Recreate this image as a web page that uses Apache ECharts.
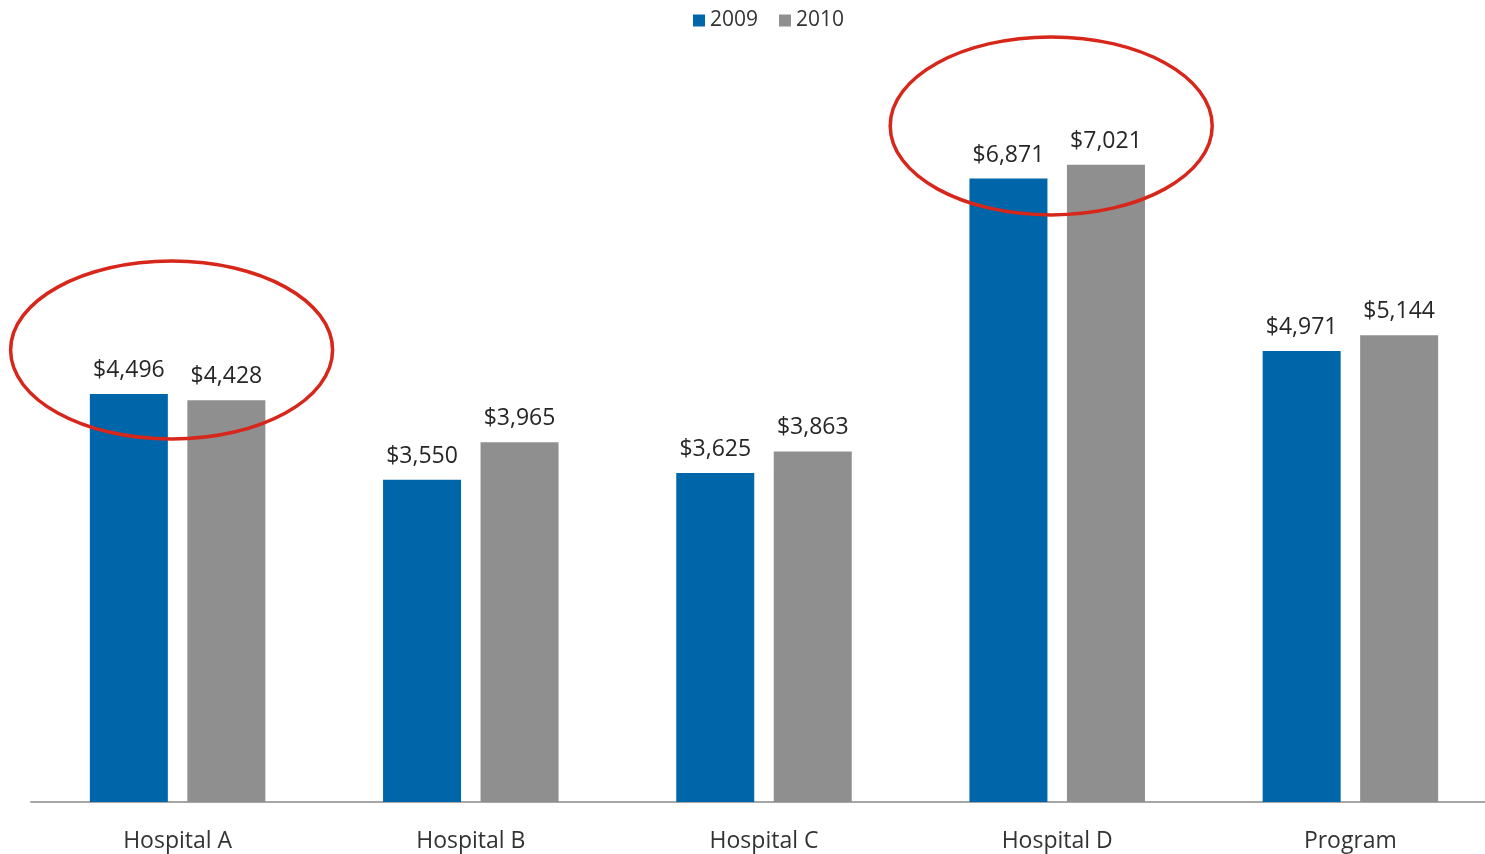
<!DOCTYPE html>
<html>
<head>
<meta charset="utf-8">
<script src="https://cdn.jsdelivr.net/npm/echarts@6/dist/echarts.min.js"></script>
<style>
  html, body { margin: 0; padding: 0; background: #fff; }
  #chart { width: 1485px; height: 854px; }
</style>
</head>
<body>
<div id="chart"></div>
<script>
// Cost per case by site, two years side by side
const categories = ['Hospital A', 'Hospital B', 'Hospital C', 'Hospital D', 'Program'];
const values2009 = [4496, 3550, 3625, 6871, 4971];
const values2010 = [4428, 3965, 3863, 7021, 5144];
const seriesNames = ['2009', '2010'];

// Sites highlighted with a red ring: [category, value at ring centre]
const highlights = [
  ['Hospital A', 4980],
  ['Hospital D', 7450]
];

const FONT = '"Open Sans", "Noto Sans", sans-serif';
const money = v => '$' + v.toLocaleString('en-US');

const chart = echarts.init(document.getElementById('chart'));

const valueLabel = {
  show: true, position: 'top', distance: 12,
  fontFamily: FONT, fontSize: 23, color: '#262626',
  formatter: p => money(p.value)
};

const option = {
  animation: false,
  backgroundColor: '#ffffff',
  legend: {
    top: 5,
    left: 688,
    itemWidth: 12,
    itemHeight: 12,
    itemGap: 21,
    icon: 'rect',
    textStyle: { fontFamily: FONT, fontSize: 21, color: '#333333' },
    data: seriesNames
  },
  // plot runs slightly past the right edge of the canvas
  grid: { left: 31, width: 1466, top: 76, bottom: 52, outerBoundsMode: 'none' },
  xAxis: {
    type: 'category',
    data: categories,
    axisTick: { show: false },
    axisLine: { lineStyle: { color: '#a6a6a6', width: 2 } },
    axisLabel: { fontFamily: FONT, fontSize: 23, color: '#333333', margin: 28 }
  },
  yAxis: {
    type: 'value',
    min: 0,
    max: 8000,
    show: false,
    splitLine: { show: false }
  },
  series: [
    {
      name: seriesNames[0],
      type: 'bar',
      data: values2009,
      barWidth: 78,
      barGap: '25%',
      itemStyle: { color: '#0066aa' },
      label: valueLabel
    },
    {
      name: seriesNames[1],
      type: 'bar',
      data: values2010,
      barWidth: 78,
      barGap: '25%',
      itemStyle: { color: '#8f8f8f' },
      label: valueLabel
    }
  ]
};

chart.setOption(option);

// Red rings around the highlighted sites, placed through the chart's own scales
const rings = highlights.map(([cat, val]) => {
  const [cx, cy] = chart.convertToPixel({ gridIndex: 0 }, [cat, val]);
  return {
    type: 'ellipse',
    shape: { cx: cx - 6, cy: cy, rx: 161, ry: 89 },
    style: { fill: 'none', stroke: '#d7261a', lineWidth: 3.5 },
    z: 100
  };
});
chart.setOption({ graphic: rings });
</script>
</body>
</html>
